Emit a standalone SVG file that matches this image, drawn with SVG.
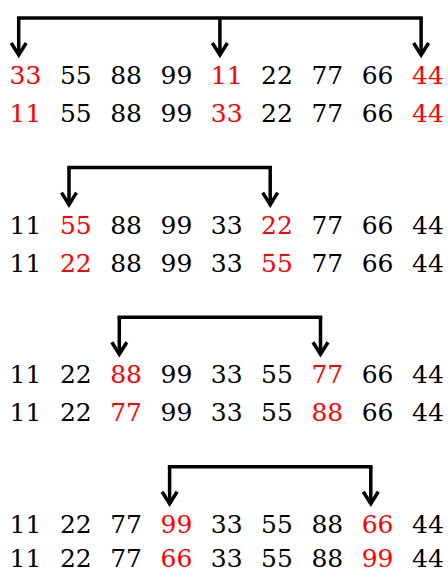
<svg xmlns="http://www.w3.org/2000/svg" width="448" height="572" viewBox="0 0 448 572">
  <style>
    .num { font-family: 'DejaVu Serif', 'Liberation Serif', serif; font-size: 25px; text-anchor: middle; fill: #000; }
    .num text.hl { fill: #ff0000; }
    .bar { stroke: #000; stroke-width: 3.5; fill: none; stroke-linecap: square; }
    .drop { stroke: #000; stroke-width: 3.5; fill: none; marker-end: url(#chev); }
  </style>
  <defs>
    <!-- open chevron arrowhead -->
    <marker id="chev" markerUnits="userSpaceOnUse" viewBox="-16 -12 20 24" markerWidth="20" markerHeight="24" refX="0" refY="0" orient="auto" overflow="visible">
      <path d="M-12,-7.5 L0,0 L-12,7.5" stroke="#000" stroke-width="3.5" fill="none" stroke-linejoin="miter"/>
    </marker>
  </defs>

  <!-- swap brackets -->
  <g id="connectors">
    <g id="swap1">
      <line class="bar" x1="18.7" y1="18" x2="421.1" y2="18"/>
      <line class="drop" x1="18.7" y1="18" x2="18.7" y2="55"/>
      <line class="drop" x1="219.9" y1="18" x2="219.9" y2="55"/>
      <line class="drop" x1="421.1" y1="18" x2="421.1" y2="55"/>
    </g>
    <g id="swap2">
      <line class="bar" x1="69" y1="167.6" x2="270.2" y2="167.6"/>
      <line class="drop" x1="69" y1="167.6" x2="69" y2="204.6"/>
      <line class="drop" x1="270.2" y1="167.6" x2="270.2" y2="204.6"/>
    </g>
    <g id="swap3">
      <line class="bar" x1="119.3" y1="317.2" x2="320.5" y2="317.2"/>
      <line class="drop" x1="119.3" y1="317.2" x2="119.3" y2="354.2"/>
      <line class="drop" x1="320.5" y1="317.2" x2="320.5" y2="354.2"/>
    </g>
    <g id="swap4">
      <line class="bar" x1="169.6" y1="466.8" x2="370.8" y2="466.8"/>
      <line class="drop" x1="169.6" y1="466.8" x2="169.6" y2="503.8"/>
      <line class="drop" x1="370.8" y1="466.8" x2="370.8" y2="503.8"/>
    </g>
  </g>

  <g class="num">
  <!-- pass 1 -->
  <g id="row1">
    <text x="25.5" y="84" class="hl">33</text><text x="75.8" y="84">55</text><text x="126.1" y="84">88</text><text x="176.4" y="84">99</text><text x="226.7" y="84" class="hl">11</text><text x="277" y="84">22</text><text x="327.3" y="84">77</text><text x="377.6" y="84">66</text><text x="427.9" y="84" class="hl">44</text>
  </g>
  <g id="row2">
    <text x="25.5" y="122" class="hl">11</text><text x="75.8" y="122">55</text><text x="126.1" y="122">88</text><text x="176.4" y="122">99</text><text x="226.7" y="122" class="hl">33</text><text x="277" y="122">22</text><text x="327.3" y="122">77</text><text x="377.6" y="122">66</text><text x="427.9" y="122" class="hl">44</text>
  </g>

  <!-- pass 2 -->
  <g id="row3">
    <text x="25.5" y="233.6">11</text><text x="75.8" y="233.6" class="hl">55</text><text x="126.1" y="233.6">88</text><text x="176.4" y="233.6">99</text><text x="226.7" y="233.6">33</text><text x="277" y="233.6" class="hl">22</text><text x="327.3" y="233.6">77</text><text x="377.6" y="233.6">66</text><text x="427.9" y="233.6">44</text>
  </g>
  <g id="row4">
    <text x="25.5" y="271.6">11</text><text x="75.8" y="271.6" class="hl">22</text><text x="126.1" y="271.6">88</text><text x="176.4" y="271.6">99</text><text x="226.7" y="271.6">33</text><text x="277" y="271.6" class="hl">55</text><text x="327.3" y="271.6">77</text><text x="377.6" y="271.6">66</text><text x="427.9" y="271.6">44</text>
  </g>

  <!-- pass 3 -->
  <g id="row5">
    <text x="25.5" y="383.2">11</text><text x="75.8" y="383.2">22</text><text x="126.1" y="383.2" class="hl">88</text><text x="176.4" y="383.2">99</text><text x="226.7" y="383.2">33</text><text x="277" y="383.2">55</text><text x="327.3" y="383.2" class="hl">77</text><text x="377.6" y="383.2">66</text><text x="427.9" y="383.2">44</text>
  </g>
  <g id="row6">
    <text x="25.5" y="421.2">11</text><text x="75.8" y="421.2">22</text><text x="126.1" y="421.2" class="hl">77</text><text x="176.4" y="421.2">99</text><text x="226.7" y="421.2">33</text><text x="277" y="421.2">55</text><text x="327.3" y="421.2" class="hl">88</text><text x="377.6" y="421.2">66</text><text x="427.9" y="421.2">44</text>
  </g>

  <!-- pass 4 -->
  <g id="row7">
    <text x="25.5" y="532.8">11</text><text x="75.8" y="532.8">22</text><text x="126.1" y="532.8">77</text><text x="176.4" y="532.8" class="hl">99</text><text x="226.7" y="532.8">33</text><text x="277" y="532.8">55</text><text x="327.3" y="532.8">88</text><text x="377.6" y="532.8" class="hl">66</text><text x="427.9" y="532.8">44</text>
  </g>
  <g id="row8">
    <text x="25.5" y="566.5">11</text><text x="75.8" y="566.5">22</text><text x="126.1" y="566.5">77</text><text x="176.4" y="566.5" class="hl">66</text><text x="226.7" y="566.5">33</text><text x="277" y="566.5">55</text><text x="327.3" y="566.5">88</text><text x="377.6" y="566.5" class="hl">99</text><text x="427.9" y="566.5">44</text>
  </g>
  </g>
</svg>
